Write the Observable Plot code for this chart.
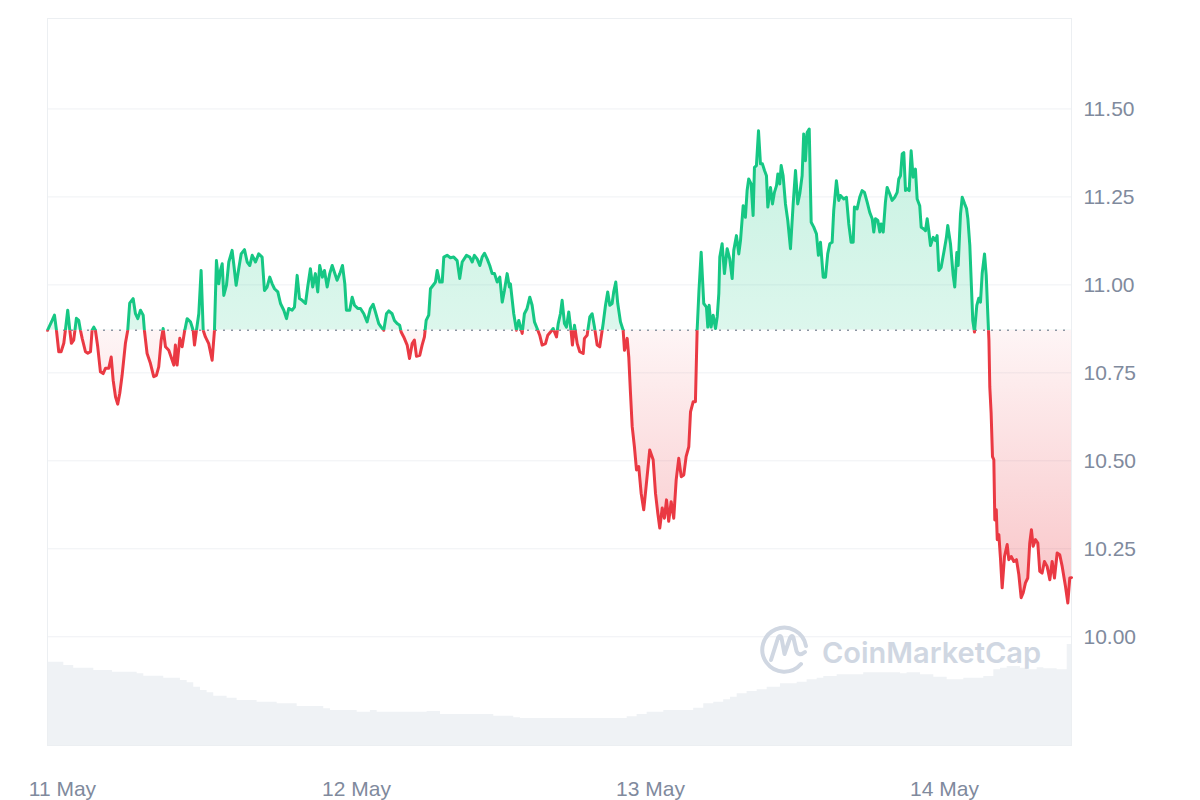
<!DOCTYPE html>
<html><head><meta charset="utf-8">
<script src="https://cdn.jsdelivr.net/npm/d3@7"></script>
<script src="https://cdn.jsdelivr.net/npm/@observablehq/plot@0.6"></script>
<style>
html,body{margin:0;padding:0;background:#fff;}
#chart{position:relative;width:1200px;height:800px;}
#chart svg{position:absolute;left:0;top:0;}
</style></head><body><div id="chart"></div>
<script>
// hours since 11 May 00:00 (UTC)
const startUTC = Date.UTC(2024, 4, 11);
const priceHours = [
-1.22,-0.84,-0.65,-0.49,-0.30,-0.11,0.11,0.24,0.43,0.60,
0.73,0.92,1.14,1.33,1.47,1.61,1.88,2.07,2.29,2.42,
2.56,2.69,2.88,3.10,3.32,3.51,3.78,3.98,4.14,4.33,
4.51,4.68,4.87,5.14,5.33,5.49,5.77,5.96,6.15,6.37,
6.59,6.69,6.91,7.18,7.45,7.67,7.86,8.06,8.22,8.41,
8.68,8.96,9.09,9.22,9.36,9.58,9.77,9.96,10.18,10.45,
10.67,10.78,10.94,11.13,11.32,11.49,11.67,11.94,
12.22,12.41,12.57,12.76,12.90,13.04,13.17,13.39,13.58,13.85,
13.98,14.18,14.39,14.59,14.86,15.08,15.29,15.49,15.76,16.02,
16.30,16.49,16.71,16.92,17.12,17.31,17.58,17.80,18.07,18.29,
18.47,18.75,18.94,19.16,19.35,19.57,19.84,20.02,20.24,20.43,
20.65,20.84,21.00,21.22,21.39,21.61,21.82,22.02,22.20,22.42,
22.64,22.86,23.05,23.18,23.45,23.65,23.84,24.11,
24.33,24.60,24.87,25.14,25.36,25.55,25.82,26.02,26.23,26.45,
26.64,26.91,27.10,27.32,27.53,27.65,27.86,28.14,28.33,28.55,
28.73,28.90,29.17,29.36,29.55,29.69,29.90,30.04,30.26,30.45,
30.59,30.80,31.00,31.13,31.40,31.67,31.94,32.22,32.43,32.63,
32.98,33.25,33.45,33.63,33.85,34.07,34.26,34.45,34.67,34.88,
35.08,35.27,35.49,35.70,35.90,36.08,36.30,36.49,
36.57,36.84,37.06,37.25,37.53,37.71,37.93,38.15,38.34,38.53,
38.75,38.96,39.16,39.43,39.62,39.84,40.06,40.33,40.47,40.65,
40.79,40.98,41.14,41.33,41.53,41.63,41.80,42.02,42.23,42.51,
42.61,42.83,43.05,43.24,43.43,43.65,43.86,44.14,44.33,44.51,
44.68,44.87,45.00,45.17,45.33,45.55,45.77,45.88,46.10,46.23,
46.37,46.51,46.69,46.86,47.04,47.24,47.45,47.59,47.78,47.94,
48.22,48.41,48.60,48.76,48.96,49.14,49.31,49.49,49.69,49.90,
50.10,50.31,50.51,50.72,50.91,51.13,51.27,51.49,51.67,
51.81,51.96,52.14,52.35,52.57,52.68,52.79,52.95,53.12,53.31,
53.45,53.58,53.66,53.85,54.04,54.26,54.47,54.67,54.80,55.02,
55.21,55.35,55.57,55.75,55.89,56.02,56.22,56.38,56.49,56.65,
56.82,56.98,57.14,57.31,57.47,57.58,57.80,57.96,58.12,58.29,
58.40,58.56,58.67,58.83,59.02,59.21,59.43,59.65,59.84,60.02,
60.19,60.38,60.51,60.65,60.79,60.96,61.12,61.33,61.55,61.71,
61.88,62.10,62.29,62.47,62.64,62.83,62.96,63.18,63.37,
63.51,63.78,64.00,64.19,64.38,64.55,64.65,64.87,65.08,65.28,
65.47,65.69,65.90,66.10,66.23,66.37,66.56,66.72,66.83,67.00,
67.18,67.32,67.53,67.73,67.94,68.14,68.27,68.41,68.55,68.68,
68.82,68.95,69.12,69.28,69.44,69.63,69.77,69.98,70.10,70.31,
70.45,70.59,70.72,70.86,71.08,71.27,71.40,71.54,71.73,71.95,
72.16,72.27,72.49,
72.71,72.84,73.01,73.12,73.31,73.45,73.64,73.80,73.91,74.07,
74.18,74.31,74.45,74.64,74.80,74.94,75.08,75.27,75.41,75.54,
75.63,75.70,75.81,75.92,76.03,76.11,76.23,76.31,76.44,76.57,
76.71,76.90,77.12,77.25,77.45,77.66,77.88,78.07,78.26,78.43,
78.61,78.80,78.96,79.10,79.24,79.43,79.62,79.78,79.97,80.16,
80.38,80.60,80.79,80.98,81.20,81.41,81.61,81.88,82.07,82.23,
82.37
];
const prices = [
10.871,10.899,10.914,10.871,10.810,10.810,10.834,10.871,10.928,10.871,
10.834,10.843,10.905,10.899,10.871,10.848,10.810,10.806,10.810,10.871,
10.880,10.871,10.824,10.753,10.748,10.763,10.763,10.795,10.729,10.682,
10.661,10.692,10.743,10.834,10.871,10.948,10.961,10.918,10.904,10.928,
10.914,10.871,10.805,10.777,10.739,10.743,10.767,10.843,10.876,10.824,
10.814,10.786,10.772,10.829,10.772,10.848,10.824,10.866,10.904,10.895,
10.871,10.829,10.871,10.918,11.041,10.871,10.852,10.833,
10.786,10.871,11.069,11.003,11.041,11.060,10.970,10.999,11.065,11.098,
11.060,10.999,11.046,11.088,11.100,11.065,11.055,11.084,11.065,11.088,
11.079,10.984,10.994,11.022,11.003,10.989,10.980,10.947,10.928,10.904,
10.933,10.928,10.937,11.027,10.961,10.956,10.947,10.994,11.046,10.994,
11.032,10.980,11.055,11.022,11.041,10.994,11.032,11.055,11.036,11.013,
11.032,11.055,11.003,10.928,10.928,10.965,10.942,10.933,
10.933,10.918,10.895,10.933,10.945,10.923,10.890,10.880,10.871,10.918,
10.926,10.918,10.899,10.890,10.885,10.866,10.852,10.829,10.791,10.833,
10.843,10.797,10.800,10.829,10.852,10.899,10.914,10.989,10.999,11.008,
11.041,11.008,11.008,11.079,11.084,11.077,11.079,11.069,11.018,11.065,
11.084,11.079,11.065,11.084,11.074,11.055,11.079,11.090,11.074,11.055,
11.032,11.032,11.008,11.022,10.951,10.984,11.032,10.994,
11.003,10.918,10.871,10.899,10.862,10.918,10.933,10.965,10.942,10.895,
10.876,10.857,10.829,10.833,10.857,10.866,10.876,10.852,10.890,10.918,
10.956,10.890,10.880,10.923,10.866,10.829,10.885,10.833,10.810,10.805,
10.848,10.857,10.909,10.918,10.880,10.829,10.824,10.890,10.942,10.980,
10.942,10.947,10.980,11.008,10.947,10.895,10.871,10.814,10.848,10.795,
10.692,10.597,10.540,10.474,10.484,10.408,10.361,10.408,10.474,10.531,
10.503,10.408,10.351,10.309,10.366,10.337,10.389,10.328,10.384,10.337,
10.446,10.507,10.455,10.460,10.512,10.540,10.639,10.668,10.668,
10.871,10.984,11.093,10.947,10.937,10.880,10.942,10.880,10.914,10.876,
10.909,10.975,11.079,11.117,11.032,11.103,11.074,11.018,11.098,11.140,
11.088,11.126,11.225,11.192,11.268,11.301,11.287,11.197,11.334,11.339,
11.438,11.344,11.344,11.325,11.310,11.221,11.277,11.230,11.263,11.282,
11.315,11.287,11.339,11.310,11.230,11.183,11.103,11.230,11.325,11.230,
11.259,11.310,11.429,11.353,11.433,11.443,11.178,11.164,11.145,11.084,
11.121,11.022,11.022,11.088,11.117,11.121,11.211,11.296,11.240,
11.254,11.244,11.249,11.173,11.121,11.121,11.221,11.216,11.249,11.268,
11.263,11.235,11.206,11.188,11.150,11.188,11.183,11.150,11.173,11.150,
11.235,11.277,11.259,11.240,11.249,11.263,11.301,11.310,11.372,11.376,
11.268,11.273,11.268,11.381,11.306,11.329,11.244,11.225,11.164,11.159,
11.154,11.188,11.154,11.112,11.135,11.126,11.140,11.041,11.050,11.093,
11.135,11.169,11.117,
11.027,10.994,11.092,11.055,11.202,11.249,11.231,11.217,11.188,11.112,
11.013,10.899,10.866,10.942,10.962,10.951,11.033,11.088,11.027,10.914,
10.843,10.710,10.635,10.512,10.503,10.332,10.361,10.276,10.290,10.224,
10.139,10.228,10.262,10.219,10.228,10.214,10.219,10.177,10.111,10.125,
10.153,10.167,10.266,10.304,10.257,10.276,10.266,10.186,10.181,10.214,
10.200,10.162,10.214,10.167,10.238,10.233,10.200,10.143,10.096,10.167,
10.168
];
// volume (relative units), step starts in hours since 11 May 00:00
const volumeHours = [
-1.22,0.11,0.92,2.56,4.08,6.10,6.64,8.27,9.63,10.18,
10.72,11.27,11.81,12.35,13.44,14.26,15.89,17.53,19.16,21.33,
21.88,24.06,25.14,25.69,29.77,30.86,35.21,36.84,37.39,46.10,
46.91,47.73,49.09,51.53,52.35,53.17,53.98,54.53,55.08,55.89,
56.71,57.53,58.61,59.98,60.79,61.61,62.15,63.24,65.41,68.41,
68.95,70.04,71.13,72.22,73.58,75.21,76.03,76.57,77.12,78.20,
78.75,79.57,80.11,81.20,82.02,82.37
];
const volumes = [
83.3,80,77.3,75,73.3,71.7,69.3,67.3,65,62.7,
58.3,55,52.7,49.3,47.3,45,43.3,41.7,39,36.7,
35,33.3,35,33.3,34,31,29.3,27.7,27,28.7,
31,33.3,35,37.3,41.7,43.3,45.7,48.3,51.7,54,
55.7,58.3,61.7,63.3,65.7,67.3,69,70.7,72.7,71.7,
72.7,70.7,68.3,65.7,67.3,69,75.7,77.3,79,77.3,
75.7,77.7,76.7,75.7,101,101
];
const yTicks = [10, 10.25, 10.5, 10.75, 11, 11.25, 11.5];
const dayTicks = ["2024-05-11", "2024-05-12", "2024-05-13", "2024-05-14"];

const toDate = h => new Date(startUTC + h * 3600e3);
const priceData = priceHours.map((h, i) => ({date: toDate(h), price: prices[i]}));
const volData = volumeHours.map((h, i) => ({date: toDate(h), volume: volumes[i]}));
const baseline = prices[0];
const xDomain = [priceData[0].date, priceData[priceData.length - 1].date];
const yDomain = [9.691, 11.757];

const W = 1200, H = 800, ML = 47, MR = 129, MT = 18, MB = 55;

const volPlot = Plot.plot({
  width: W, height: H, marginLeft: ML, marginRight: MR, marginTop: 644, marginBottom: MB,
  style: {background: "transparent"},
  x: {domain: xDomain, axis: null},
  y: {domain: [0, d3.max(volumes)], axis: null},
  marks: [
    Plot.areaY(volData, {x: "date", y: "volume", curve: "step-after", fill: "#eff2f5"})
  ]
});

const main = Plot.plot({
  width: W, height: H, marginLeft: ML, marginRight: MR, marginTop: MT, marginBottom: MB,
  style: {background: "transparent", fontFamily: "'Liberation Sans', Arial, sans-serif", fontSize: "21px", color: "#808a9d", overflow: "visible"},
  x: {domain: xDomain, ticks: dayTicks.map(s => new Date(s + "T00:00:00Z")), tickFormat: d3.utcFormat("%-d %b"), tickSize: 0, tickPadding: 36, label: null},
  y: {domain: yDomain, axis: "right", ticks: yTicks, tickFormat: d3.format(".2f"), tickSize: 0, tickPadding: 12, label: null},
  marks: [
    Plot.ruleY(yTicks, {stroke: "#eff1f4", strokeWidth: 1}),
    Plot.frame({stroke: "#eceff2"}),
    Plot.areaY(priceData, {x: "date", y1: () => baseline, y2: "price", fill: "#16c784"}),
    Plot.areaY(priceData, {x: "date", y1: () => baseline, y2: "price", fill: "#ea3943"}),
    Plot.ruleY([baseline], {stroke: "#8d96a3", strokeWidth: 1.6, strokeDasharray: "2,6"}),
    Plot.lineY(priceData, {x: "date", y: "price", stroke: "#16c784", strokeWidth: 3}),
    Plot.lineY(priceData, {x: "date", y: "price", stroke: "#ea3943", strokeWidth: 3})
  ]
});

const chart = document.getElementById("chart");
chart.appendChild(volPlot);
chart.appendChild(main);

// pixel positions derived from the same y scale settings
const yPix = d3.scaleLinear().domain(yDomain).range([H - MB, MT]);
const yB = yPix(baseline);
const yMax = yPix(d3.max(prices));
const yMin = yPix(d3.min(prices));
const svg = d3.select(main);
const defs = svg.insert("defs", ":first-child");
const gU = defs.append("linearGradient").attr("id", "gradUp").attr("gradientUnits", "userSpaceOnUse")
  .attr("x1", 0).attr("x2", 0).attr("y1", yMax).attr("y2", yB);
gU.append("stop").attr("offset", 0).attr("stop-color", "#16c784").attr("stop-opacity", 0.24);
gU.append("stop").attr("offset", 1).attr("stop-color", "#16c784").attr("stop-opacity", 0.15);
const gD = defs.append("linearGradient").attr("id", "gradDown").attr("gradientUnits", "userSpaceOnUse")
  .attr("x1", 0).attr("x2", 0).attr("y1", yB).attr("y2", yMin);
gD.append("stop").attr("offset", 0).attr("stop-color", "#ea3943").attr("stop-opacity", 0.05);
gD.append("stop").attr("offset", 1).attr("stop-color", "#ea3943").attr("stop-opacity", 0.3);
defs.append("clipPath").attr("id", "clipUp").append("rect")
  .attr("x", 0).attr("y", 0).attr("width", W).attr("height", yB);
defs.append("clipPath").attr("id", "clipDown").append("rect")
  .attr("x", 0).attr("y", yB).attr("width", W).attr("height", H - yB);

const areas = svg.selectAll('g[aria-label="area"]').nodes();
const lines = svg.selectAll('g[aria-label="line"]').nodes();
const styleArea = (node, grad, clip) => {
  const g = d3.select(node);
  g.attr("fill", `url(#${grad})`).attr("clip-path", `url(#${clip})`);
  g.selectAll("path").attr("fill", `url(#${grad})`);
};
if (areas.length >= 2) { styleArea(areas[0], "gradUp", "clipUp"); styleArea(areas[1], "gradDown", "clipDown"); }
if (lines.length >= 2) {
  d3.select(lines[0]).attr("clip-path", "url(#clipUp)");
  d3.select(lines[1]).attr("clip-path", "url(#clipDown)");
}

// watermark
const wm = svg.append("g").attr("fill", "none").attr("stroke", "#d0d7e2").attr("stroke-width", 4)
  .attr("stroke-linecap", "round").attr("stroke-linejoin", "round");
wm.append("path").attr("d", "M 801 664 A 22 22 0 1 1 806 646");
wm.append("path").attr("d", "M 771 660 L 778 638 Q 780 634 781.5 638 L 784.5 654 L 790 638 Q 792 634 793.5 638 L 796.5 651 Q 799 657 805 652");
svg.append("text").attr("x", 822).attr("y", 663).attr("text-anchor", "start")
  .attr("font-family", "Inter, 'Noto Sans', sans-serif").attr("font-weight", 600).attr("font-size", 29)
  .attr("fill", "#d0d7e2").text("CoinMarketCap");
</script></body></html>
